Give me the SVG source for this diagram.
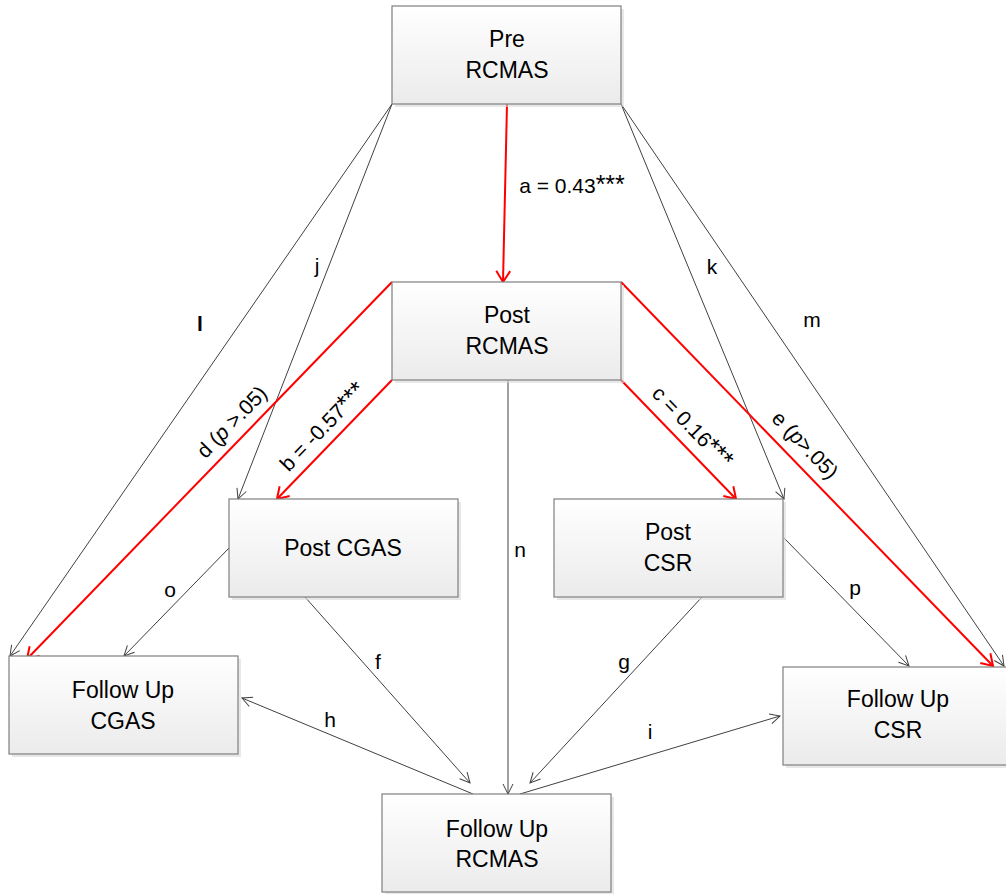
<svg xmlns="http://www.w3.org/2000/svg" width="1006" height="894" viewBox="0 0 1006 894">
<style>
.box{fill:url(#g);stroke:#7f7f7f;stroke-width:1.2}
.sh{fill:#d9d9d9;opacity:0.6}
.t{font-family:"Liberation Sans",Arial,sans-serif;font-size:23px;fill:#000;text-anchor:middle}
.lb{font-family:"Liberation Sans",Arial,sans-serif;font-size:21px;fill:#000;text-anchor:middle}
.st{font-size:25px}
.k{stroke:#404040;stroke-width:1;fill:none;marker-end:url(#ak)}
.r{stroke:#ff0000;stroke-width:2;fill:none;marker-end:url(#ar)}
</style>
<defs>
<linearGradient id="g" x1="0" y1="0" x2="0" y2="1">
<stop offset="0" stop-color="#ffffff"/>
<stop offset="1" stop-color="#ebebeb"/>
</linearGradient>
<marker id="ak" markerWidth="14" markerHeight="14" refX="12" refY="6" orient="auto" markerUnits="userSpaceOnUse">
<path d="M2,1 L12,6 L2,11" fill="none" stroke="#404040" stroke-width="1"/>
</marker>
<marker id="ar" markerWidth="16" markerHeight="16" refX="13" refY="8" orient="auto" markerUnits="userSpaceOnUse">
<path d="M2,1 L13,8 L2,15" fill="none" stroke="#ff0000" stroke-width="2"/>
</marker>
</defs>
<rect width="1006" height="894" fill="#ffffff"/>
<g id="connectors">
<line class="k" x1="392" y1="104" x2="10" y2="656"/>
<line class="k" x1="392" y1="104" x2="238" y2="499"/>
<line class="k" x1="621" y1="104" x2="784" y2="499"/>
<line class="k" x1="621" y1="104" x2="1004" y2="666"/>
<line class="k" x1="508" y1="380" x2="508" y2="794"/>
<line class="k" x1="229" y1="548" x2="124" y2="656"/>
<line class="k" x1="305" y1="597" x2="470" y2="783"/>
<line class="k" x1="702" y1="597" x2="530" y2="783"/>
<line class="k" x1="784" y1="538" x2="909" y2="666"/>
<line class="k" x1="473" y1="794" x2="242" y2="698"/>
<line class="k" x1="520" y1="794" x2="780" y2="716"/>
<line class="r" x1="507" y1="104" x2="503" y2="282"/>
<line class="r" x1="392" y1="282" x2="27" y2="659"/>
<line class="r" x1="392" y1="380" x2="277" y2="499"/>
<line class="r" x1="621" y1="380" x2="736" y2="499"/>
<line class="r" x1="621" y1="282" x2="993" y2="666"/>
<text class="lb" x="572" y="193">a = 0.43<tspan class="st">***</tspan></text>
<text class="lb" x="317" y="273">j</text>
<text class="lb" x="712" y="274">k</text>
<text class="lb" x="200" y="331" font-weight="bold">l</text>
<text class="lb" x="812" y="327">m</text>
<text class="lb" x="520" y="557">n</text>
<text class="lb" x="170" y="597">o</text>
<text class="lb" x="378" y="669">f</text>
<text class="lb" x="624" y="669">g</text>
<text class="lb" x="855" y="595">p</text>
<text class="lb" x="330" y="727">h</text>
<text class="lb" x="650" y="739">i</text>
<text class="lb" transform="translate(237,427) rotate(-46)">d (<tspan font-style="italic">p</tspan> &gt;.05)</text>
<text class="lb" transform="translate(328,432) rotate(-46)">b = -0.57<tspan class="st">***</tspan></text>
<text class="lb" transform="translate(687,432) rotate(46)">c = 0.16<tspan class="st">***</tspan></text>
<text class="lb" transform="translate(800,450) rotate(46)">e (<tspan font-style="italic">p</tspan>&gt;.05)</text>
</g>
<g id="pre-rcmas">
<rect class="sh" x="395" y="9" width="229" height="98"/>
<rect class="box" x="392" y="6" width="229" height="98"/>
<text class="t" x="507" y="47">Pre</text>
<text class="t" x="507" y="78">RCMAS</text>
</g>
<g id="post-rcmas">
<rect class="sh" x="395" y="285" width="229" height="98"/>
<rect class="box" x="392" y="282" width="229" height="98"/>
<text class="t" x="507" y="323">Post</text>
<text class="t" x="507" y="354">RCMAS</text>
</g>
<g id="post-cgas">
<rect class="sh" x="232" y="502" width="229" height="98"/>
<rect class="box" x="229" y="499" width="229" height="98"/>
<text class="t" x="343" y="556">Post CGAS</text>
</g>
<g id="post-csr">
<rect class="sh" x="557" y="502" width="229" height="98"/>
<rect class="box" x="554" y="499" width="229" height="98"/>
<text class="t" x="668" y="540">Post</text>
<text class="t" x="668" y="571">CSR</text>
</g>
<g id="followup-cgas">
<rect class="sh" x="12" y="659" width="229" height="98"/>
<rect class="box" x="9" y="656" width="229" height="98"/>
<text class="t" x="123" y="698">Follow Up</text>
<text class="t" x="123" y="729">CGAS</text>
</g>
<g id="followup-csr">
<rect class="sh" x="786" y="670" width="229" height="98"/>
<rect class="box" x="783" y="667" width="229" height="98"/>
<text class="t" x="898" y="707">Follow Up</text>
<text class="t" x="898" y="738">CSR</text>
</g>
<g id="followup-rcmas">
<rect class="sh" x="385" y="797" width="229" height="98"/>
<rect class="box" x="382" y="794" width="229" height="98"/>
<text class="t" x="497" y="837">Follow Up</text>
<text class="t" x="497" y="867">RCMAS</text>
</g>
</svg>
